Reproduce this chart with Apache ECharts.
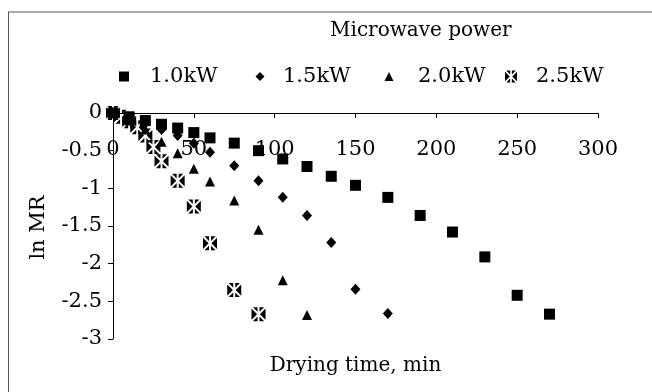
<!DOCTYPE html>
<html>
<head>
<meta charset="utf-8">
<script src="https://cdn.jsdelivr.net/npm/echarts@6/dist/echarts.min.js"></script>
<style>html,body{margin:0;padding:0;background:#fff}#c{width:652px;height:392px}</style>
</head>
<body>
<div id="c"></div>
<script>
// Drying time (min) and ln MR for each microwave power level
var seriesNames = ['1.0kW', '1.5kW', '2.0kW', '2.5kW'];
var time1 = [0, 10, 20, 30, 40, 50, 60, 75, 90, 105, 120, 135, 150, 170, 190, 210, 230, 250, 270];
var lnmr1 = [0, -0.05, -0.10, -0.15, -0.20, -0.26, -0.33, -0.40, -0.50, -0.61, -0.71, -0.84, -0.96, -1.12, -1.36, -1.58, -1.91, -2.42, -2.67];
var time2 = [0, 10, 20, 30, 40, 50, 60, 75, 90, 105, 120, 135, 150, 170];
var lnmr2 = [0, -0.07, -0.14, -0.22, -0.30, -0.40, -0.52, -0.70, -0.90, -1.12, -1.36, -1.72, -2.34, -2.66];
var time3 = [0, 10, 20, 30, 40, 50, 60, 75, 90, 105, 120];
var lnmr3 = [0, -0.10, -0.22, -0.38, -0.535, -0.74, -0.91, -1.16, -1.55, -2.22, -2.68];
var time4 = [0, 5, 10, 15, 20, 25, 30, 40, 50, 60, 75, 90];
var lnmr4 = [0, -0.05, -0.11, -0.19, -0.30, -0.45, -0.64, -0.90, -1.24, -1.73, -2.35, -2.67];
var xTicks = [0, 50, 100, 150, 200, 250, 300];
var yTicks = [0, -0.5, -1, -1.5, -2, -2.5, -3];

function pairs(t, v) { return t.map(function (x, i) { return [x, v[i]]; }); }

var FONT = 'DejaVu Serif';
var patterned = 'path://M0 1.4L5.6 7L0 12.6Z M14 1.4L14 12.6L8.4 7Z M1.4 0L6 0L6 4.6Z M8 0L12.6 0L8 4.6Z M1.4 14L6 9.4L6 14Z M8 14L8 9.4L12.6 14Z';
var symbols = ['rect', 'diamond', 'triangle', patterned];
var sizes = [[11, 11], [10, 11], [10, 10], [14, 14]];
var datasets = [pairs(time1, lnmr1), pairs(time2, lnmr2), pairs(time3, lnmr3), pairs(time4, lnmr4)];

// legend layout
var legLeft = [119, 255.5, 384.5, 505];
var legSize = [10, 9, 9, 12];
var legPad = [16, 13.5, 19.5, 14];

var chart = echarts.init(document.getElementById('c'), null, { renderer: 'canvas' });
chart.setOption({
  animation: false,
  backgroundColor: '#fff',
  title: {
    text: 'Microwave power', left: 330, top: 21, padding: 0,
    textStyle: { fontFamily: FONT, fontSize: 20, fontWeight: 'normal', color: '#000' }
  },
  legend: seriesNames.map(function (n, i) {
    return {
      data: [n], left: legLeft[i], top: 66, padding: 0,
      itemWidth: legSize[i], itemHeight: legSize[i],
      textStyle: { fontFamily: FONT, fontSize: 21, color: '#000', padding: [0, 0, 0, legPad[i]] }
    };
  }),
  grid: { left: 113, right: 54, top: 113, bottom: 53, containLabel: false },
  xAxis: [{
    type: 'value', min: 0, max: 300, interval: 50, position: 'top',
    axisLine: { onZero: false, lineStyle: { color: '#000', width: 1 } },
    axisTick: { show: true, inside: true, length: 5, lineStyle: { color: '#000' } },
    axisLabel: { inside: true, margin: 26, fontFamily: FONT, fontSize: 21, color: '#000',
      formatter: function (v) { return xTicks.indexOf(v) >= 0 ? String(v) : ''; } },
    splitLine: { show: false }
  }, {
    type: 'value', min: 0, max: 300, position: 'bottom',
    axisLine: { show: false, onZero: false }, axisTick: { show: false }, axisLabel: { show: false },
    splitLine: { show: false },
    name: 'Drying time, min', nameLocation: 'middle', nameGap: 17,
    nameTextStyle: { fontFamily: FONT, fontSize: 20, color: '#000' }
  }],
  yAxis: {
    type: 'value', min: -3, max: 0, interval: 0.5,
    axisLine: { show: true, onZero: false, lineStyle: { color: '#000', width: 1 } },
    axisTick: { show: true, length: 5, lineStyle: { color: '#000' } },
    axisLabel: { margin: 11, fontFamily: FONT, fontSize: 21, color: '#000',
      formatter: function (v) { return yTicks.indexOf(v) >= 0 ? String(v) : ''; } },
    splitLine: { show: false },
    name: 'ln MR', nameLocation: 'middle', nameGap: 64, nameRotate: 90,
    nameTextStyle: { fontFamily: FONT, fontSize: 21, color: '#000', padding: [0, 3, 0, 0] }
  },
  series: seriesNames.map(function (n, i) {
    return {
      name: n, type: 'scatter', xAxisIndex: 0, yAxisIndex: 0,
      data: datasets[i], symbol: symbols[i], symbolSize: sizes[i],
      itemStyle: { color: '#000', opacity: 1 },
      emphasis: { disabled: true }
    };
  }),
  graphic: [
    { type: 'line', shape: { x1: 8, y1: 12, x2: 652, y2: 12 }, style: { stroke: '#aaaaaa', lineWidth: 2 }, silent: true },
    { type: 'line', shape: { x1: 8.5, y1: 12, x2: 8.5, y2: 392 }, style: { stroke: '#555555', lineWidth: 1 }, silent: true }
  ]
});
</script>
</body>
</html>
